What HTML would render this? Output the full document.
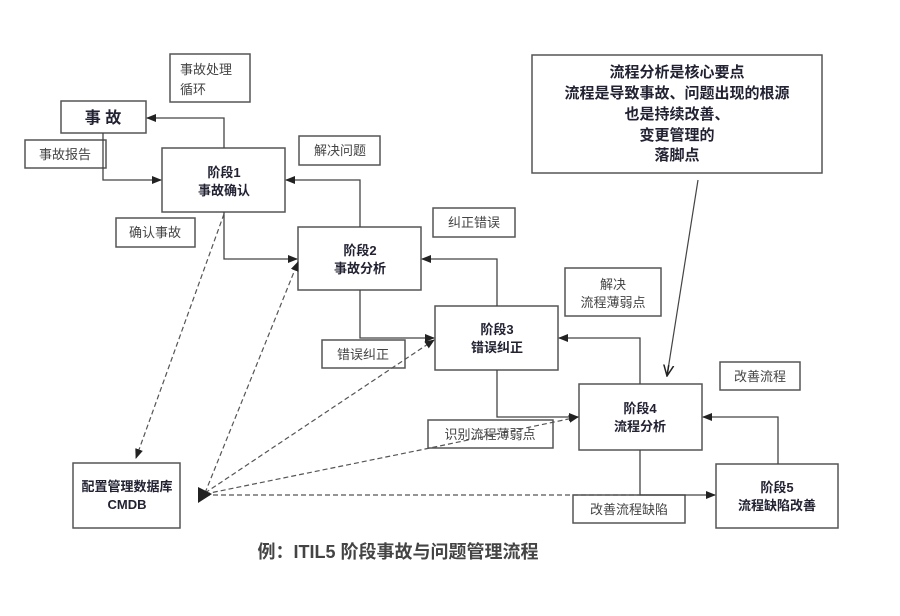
<!DOCTYPE html>
<html><head><meta charset="utf-8"><style>
body{margin:0;background:#fff}
svg text{font-family:"Liberation Sans","Noto Sans CJK SC",sans-serif;fill:#444}
.b{font-weight:bold;fill:#223}
</style></head><body>
<svg width="900" height="611" viewBox="0 0 900 611" xmlns="http://www.w3.org/2000/svg">
<defs>
<marker id="a" markerWidth="10" markerHeight="10" refX="9" refY="5" orient="auto" markerUnits="userSpaceOnUse"><path d="M0,1 L10,5 L0,9 z" fill="#222"/></marker>
<marker id="v" markerWidth="12" markerHeight="12" refX="11" refY="6" orient="auto" markerUnits="userSpaceOnUse"><path d="M0,1 L11,6 L0,11 M0,6 L11,6" fill="none" stroke="#222" stroke-width="1.5"/></marker>
</defs>
<g fill="#fff" stroke="#555" stroke-width="1.5">
<rect x="170" y="54" width="80" height="48"/>
<rect x="61" y="101" width="85" height="32"/>
<rect x="25" y="140" width="81" height="28"/>
<rect x="162" y="148" width="123" height="64"/>
<rect x="299" y="136" width="81" height="29"/>
<rect x="116" y="218" width="79" height="29"/>
<rect x="298" y="227" width="123" height="63"/>
<rect x="433" y="208" width="82" height="29"/>
<rect x="565" y="268" width="96" height="48"/>
<rect x="435" y="306" width="123" height="64"/>
<rect x="322" y="340" width="83" height="28"/>
<rect x="579" y="384" width="123" height="66"/>
<rect x="720" y="362" width="80" height="28"/>
<rect x="716" y="464" width="122" height="64"/>
<rect x="428" y="420" width="125" height="28"/>
<rect x="573" y="495" width="112" height="28"/>
<rect x="73" y="463" width="107" height="65"/>
<rect x="532" y="55" width="290" height="118"/>
</g>
<g fill="none" stroke="#444" stroke-width="1.3" marker-end="url(#a)">
<path d="M224,148 V118 H147"/>
<path d="M103,133 V180 H161"/>
<path d="M360,227 V180 H286"/>
<path d="M224,212 V259 H297"/>
<path d="M497,306 V259 H422"/>
<path d="M360,290 V338 H434"/>
<path d="M640,384 V338 H559"/>
<path d="M497,370 V417 H578"/>
<path d="M778,464 V417 H703"/>
<path d="M640,450 V495 H715"/>
</g>
<path d="M698,180 L667,376" stroke="#444" stroke-width="1.2" fill="none" marker-end="url(#v)"/>
<g fill="none" stroke="#555" stroke-width="1.2" stroke-dasharray="5,3">
<path d="M224,214 L136,458" marker-end="url(#a)"/>
<path d="M205,493 L298,262" marker-end="url(#a)"/>
<path d="M205,493 L434,340" marker-end="url(#a)"/>
<path d="M205,494 L430,448 L578,417" marker-end="url(#a)"/>
<path d="M205,495 H640"/>
</g>
<path d="M198,487 L212,494 L198,503 z" fill="#222"/>
<g font-size="13" text-anchor="middle">
<text x="180" y="74" text-anchor="start">事故处理</text><text x="180" y="94" text-anchor="start">循环</text>
<text x="65" y="159">事故报告</text>
<text x="340" y="155">解决问题</text>
<text x="155" y="237">确认事故</text>
<text x="474" y="227">纠正错误</text>
<text x="613" y="289">解决</text><text x="613" y="307">流程薄弱点</text>
<text x="363" y="359">错误纠正</text>
<text x="760" y="381">改善流程</text>
<text x="490" y="439">识别流程薄弱点</text>
<text x="629" y="514">改善流程缺陷</text>
</g>
<g font-size="13" text-anchor="middle" class="b">
<text class="b" x="103" y="123" font-size="16">事 故</text>
<text class="b" x="224" y="177">阶段1</text><text class="b" x="224" y="195">事故确认</text>
<text class="b" x="360" y="255">阶段2</text><text class="b" x="360" y="273">事故分析</text>
<text class="b" x="497" y="334">阶段3</text><text class="b" x="497" y="352">错误纠正</text>
<text class="b" x="640" y="413">阶段4</text><text class="b" x="640" y="431">流程分析</text>
<text class="b" x="777" y="492">阶段5</text><text class="b" x="777" y="510">流程缺陷改善</text>
<text class="b" x="127" y="491">配置管理数据库</text><text class="b" x="127" y="509">CMDB</text>
</g>
<g font-size="15" text-anchor="middle">
<text class="b" x="677" y="77">流程分析是核心要点</text>
<text class="b" x="677" y="98">流程是导致事故、问题出现的根源</text>
<text class="b" x="677" y="119">也是持续改善、</text>
<text class="b" x="677" y="140">变更管理的</text>
<text class="b" x="677" y="160">落脚点</text>
</g>
<text class="b" x="398" y="558" font-size="18" text-anchor="middle" style="fill:#444">例：ITIL5 阶段事故与问题管理流程</text>
</svg>
</body></html>
